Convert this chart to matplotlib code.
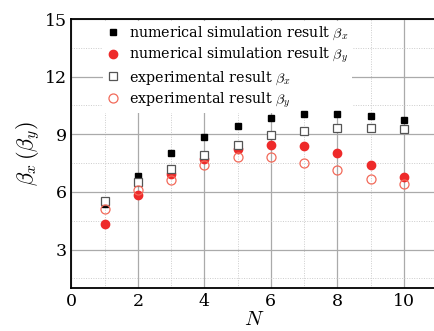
import matplotlib
matplotlib.use("Agg")
import matplotlib.pyplot as plt
from matplotlib.ticker import MultipleLocator

N = [1, 2, 3, 4, 5, 6, 7, 8, 9, 10]
sim_bx = [5.35, 6.85, 8.03, 8.86, 9.45, 9.83, 10.04, 10.07, 9.97, 9.76]
sim_by = [4.33, 5.82, 6.95, 7.72, 8.25, 8.46, 8.38, 8.01, 7.42, 6.77]
exp_bx = [5.55, 6.50, 7.21, 7.94, 8.46, 8.98, 9.19, 9.34, 9.31, 9.29]
exp_by = [5.11, 6.10, 6.64, 7.39, 7.84, 7.84, 7.49, 7.16, 6.66, 6.41]

labels = [r"numerical simulation result $\beta_x$",
          r"numerical simulation result $\beta_y$",
          r"experimental result $\beta_x$",
          r"experimental result $\beta_y$"]

plt.rcParams['font.family'] = ['DejaVu Serif']
plt.rcParams['mathtext.fontset'] = 'cm'

fig = plt.figure(figsize=(4.35, 3.31), dpi=100)
ax = fig.add_axes([71.5/435, 1-288/331, (437-71.5)/435, (288-19)/331])

red = '#ee2a2a'
ax.plot(N, sim_bx, 's', color='black', ms=5, label=labels[0], zorder=3)
ax.plot(N, sim_by, 'o', color=red, ms=6, label=labels[1], zorder=3)
ax.plot(N, exp_bx, 's', mfc='white', mec='#555555', mew=0.9, ms=6, label=labels[2], zorder=4)
ax.plot(N, exp_by, 'o', mfc='none', mec='#f26a5a', mew=0.9, ms=6.5, label=labels[3], zorder=4)

ax.set_xlim(0, 11)
ax.set_ylim(1, 15)
ax.xaxis.set_major_locator(MultipleLocator(2))
ax.xaxis.set_minor_locator(MultipleLocator(1))
ax.yaxis.set_major_locator(MultipleLocator(3))
ax.yaxis.set_minor_locator(MultipleLocator(1.5))
ax.grid(which='major', color='#aaaaaa', lw=0.9)
ax.grid(which='minor', color='#cccccc', lw=0.7, ls=(0, (1, 1.5)))
ax.set_axisbelow(True)
ax.tick_params(which='both', direction='in', labelsize=12.5, length=0)
for s in ['left', 'bottom', 'top']:
    ax.spines[s].set_linewidth(1.3)
ax.spines['right'].set_visible(False)

ax.set_xlabel(r"$N$", fontsize=15, labelpad=0)
ax.set_ylabel(r"$\beta_x\,(\beta_y)$", fontsize=16, labelpad=2)

leg = ax.legend(loc='upper left', bbox_to_anchor=(0.085, 0.993), frameon=True,
                fontsize=10.3, handletextpad=0.6, handlelength=1.0,
                borderpad=0.25, labelspacing=0.28, borderaxespad=0)
leg.get_frame().set_edgecolor('none')
leg.get_frame().set_facecolor('white')
leg.get_frame().set_alpha(1)
leg.set_zorder(2.5)

fig.savefig("out.png", dpi=100)
